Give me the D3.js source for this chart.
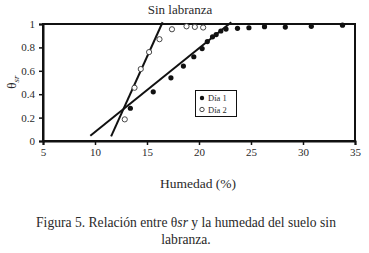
<!DOCTYPE html>
<html>
<head>
<meta charset="utf-8">
<script src="https://cdn.jsdelivr.net/npm/d3@7"></script>
<style>
body { margin: 0; background: #fff; }
text { font-family: "Liberation Serif", serif; fill: #2a2a2a; }
</style>
</head>
<body>
<script>
var w = 369;
var h = 253;

// Dia 1 (filled)
var dia1X = [13.4, 15.6, 17.3, 18.5, 19.5, 20.3, 20.8, 21.3, 21.65, 22.1, 22.6, 23.7, 24.8, 26.3, 28.3, 30.8, 33.8];
var dia1Y = [0.28, 0.42, 0.54, 0.64, 0.72, 0.79, 0.85, 0.89, 0.91, 0.94, 0.957, 0.963, 0.968, 0.977, 0.974, 0.98, 0.99];

// Dia 2 (open)
var dia2X = [12.86, 13.8, 14.4, 15.2, 16.2, 17.4, 18.8, 19.6, 20.4];
var dia2Y = [0.185, 0.455, 0.615, 0.76, 0.87, 0.955, 0.98, 0.975, 0.97];

// fitted lines [x1, y1, x2, y2]
var lineDia2 = [11.55, 0.04, 16.5, 1.015];
var lineDia1 = [9.55, 0.045, 23.1, 1.015];

var xTicks = [5, 10, 15, 20, 25, 30, 35];
var yTicks = [0, 0.2, 0.4, 0.6, 0.8, 1];

var svg = d3.select("body").append("svg")
  .attr("width", w)
  .attr("height", h);

var x = d3.scaleLinear().domain([5, 35]).range([43, 355]);
var y = d3.scaleLinear().domain([0, 1]).range([141, 24]);

// frame
svg.append("rect")
  .attr("x", x(5)).attr("y", y(1))
  .attr("width", x(35) - x(5)).attr("height", y(0) - y(1))
  .attr("fill", "none").attr("stroke", "#111").attr("stroke-width", 2);

var xAxis = svg.append("g")
  .attr("transform", "translate(0," + y(0) + ")")
  .call(d3.axisBottom(x).tickValues(xTicks).tickSize(4).tickPadding(3));
var yAxis = svg.append("g")
  .attr("transform", "translate(" + x(5) + ",0)")
  .call(d3.axisLeft(y).tickValues(yTicks).tickSize(4).tickPadding(4)
    .tickFormat(function(d) { return d3.format("")(d); }));

[xAxis, yAxis].forEach(function(g) {
  g.select(".domain").attr("stroke", "#111").attr("stroke-width", 2);
  g.selectAll(".tick line").attr("stroke", "#111").attr("stroke-width", 1.5);
  g.selectAll(".tick text")
    .style("font-family", "Liberation Serif, serif")
    .style("font-size", "11px").attr("fill", "#444");
});

// fitted lines
[lineDia2, lineDia1].forEach(function(l) {
  svg.append("line")
    .attr("x1", x(l[0])).attr("y1", y(l[1]))
    .attr("x2", x(l[2])).attr("y2", y(l[3]))
    .attr("stroke", "#111").attr("stroke-width", 2);
});

// points
svg.selectAll(".d2").data(d3.range(dia2X.length)).enter().append("circle")
  .attr("cx", function(i) { return x(dia2X[i]); })
  .attr("cy", function(i) { return y(dia2Y[i]); })
  .attr("r", 2.6).attr("fill", "#fff").attr("stroke", "#333").attr("stroke-width", 0.9);

svg.selectAll(".d1").data(d3.range(dia1X.length)).enter().append("circle")
  .attr("cx", function(i) { return x(dia1X[i]); })
  .attr("cy", function(i) { return y(dia1Y[i]); })
  .attr("r", 2.6).attr("fill", "#111");

// legend
var lg = svg.append("g");
lg.append("rect").attr("x", 195.5).attr("y", 90.5).attr("width", 41).attr("height", 26)
  .attr("fill", "#fff").attr("stroke", "#111").attr("stroke-width", 1);
lg.append("circle").attr("cx", 202).attr("cy", 98).attr("r", 2.2).attr("fill", "#111");
lg.append("circle").attr("cx", 202).attr("cy", 109.5).attr("r", 2.2)
  .attr("fill", "#fff").attr("stroke", "#333").attr("stroke-width", 0.9);
lg.append("text").attr("x", 208).attr("y", 101).style("font-size", "8.5px").text("Día 1");
lg.append("text").attr("x", 208).attr("y", 112.5).style("font-size", "8.5px").text("Día 2");

// title
svg.append("text").attr("x", 180).attr("y", 14).attr("text-anchor", "middle")
  .style("font-size", "13px").text("Sin labranza");

// y label
var yl = svg.append("text")
  .attr("transform", "translate(16," + 82 + ") rotate(-90)")
  .attr("text-anchor", "middle").style("font-size", "13px");
yl.append("tspan").text("θ");
yl.append("tspan").attr("dy", 3).style("font-size", "9px").style("font-style", "italic").text("sr");

// x label
svg.append("text").attr("x", 198).attr("y", 188).attr("text-anchor", "middle")
  .style("font-size", "13.5px").text("Humedad (%)");

// caption
var cap = svg.append("text").attr("text-anchor", "middle").style("font-size", "13.6px");
cap.append("tspan").attr("x", 186).attr("y", 227).text("Figura 5. Relación entre θ")
  .append("tspan").style("font-style", "italic").text("sr");
cap.select("tspan").append("tspan").text(" y la humedad del suelo sin");
cap.append("tspan").attr("x", 186).attr("y", 244).text("labranza.");
</script>
</body>
</html>
